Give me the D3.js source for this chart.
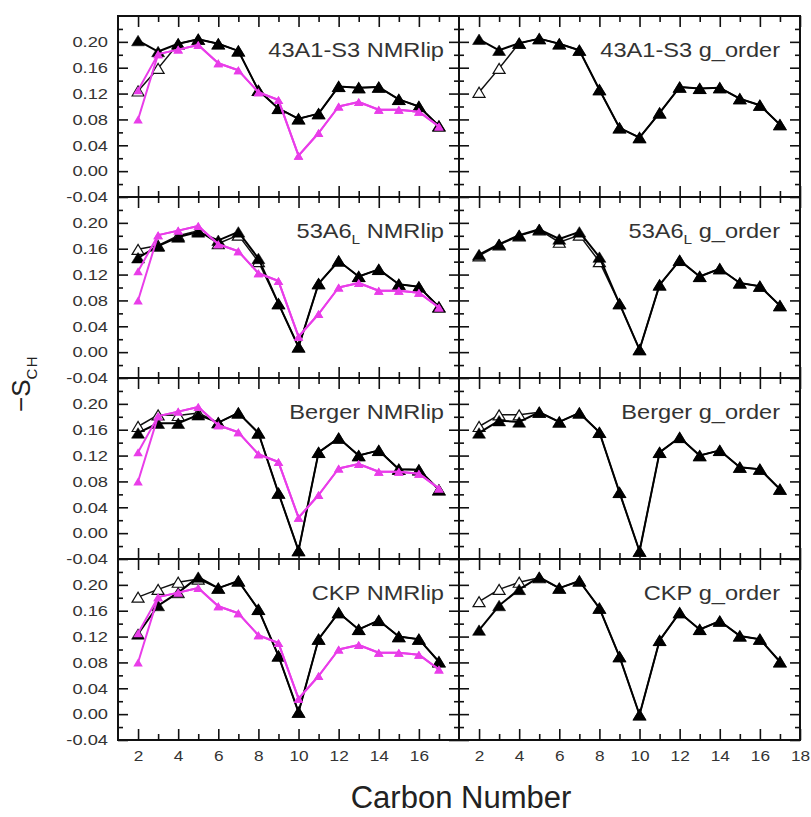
<!DOCTYPE html>
<html>
<head>
<meta charset="utf-8">
<script src="https://cdn.jsdelivr.net/npm/d3@7"></script>
<style>
  html, body { margin: 0; padding: 0; background: #fff; }
  svg { display: block; font-family: "Liberation Sans", Arial, Helvetica, sans-serif; }
</style>
</head>
<body>
<svg id="chart" width="811" height="817"></svg>
<script>
// Carbon positions along the acyl chain
const carbons = [2, 3, 4, 5, 6, 7, 8, 9, 10, 11, 12, 13, 14, 15, 16, 17];

// Experimental order parameters (two values at C2)
const expLower = [0.080, 0.181, 0.188, 0.195, 0.167, 0.156, 0.122, 0.110, 0.024, 0.059, 0.100, 0.107, 0.095, 0.095, 0.092, 0.069];
const expUpper = [0.125, 0.181, 0.188, 0.195, 0.167, 0.156, 0.122, 0.110, 0.024, 0.059, 0.100, 0.107, 0.095, 0.095, 0.092, 0.069];

// 43A1-S3
const s43NmrFilled  = [0.202, 0.185, 0.197, 0.204, 0.197, 0.186, 0.125, 0.097, 0.081, 0.089, 0.131, 0.129, 0.130, 0.111, 0.100, 0.070];
const s43NmrOpen    = [0.124, 0.159, 0.197, 0.204, 0.197, 0.186, 0.125, 0.097, 0.081, 0.089, 0.131, 0.129, 0.130, 0.111, 0.100, 0.070];
const s43GordFilled = [0.204, 0.187, 0.198, 0.205, 0.197, 0.187, 0.126, 0.067, 0.052, 0.090, 0.130, 0.128, 0.129, 0.112, 0.102, 0.072];
const s43GordOpen   = [0.122, 0.159, 0.198, 0.205, 0.197, 0.187, 0.126, 0.067, 0.052, 0.090, 0.130, 0.128, 0.129, 0.112, 0.102, 0.072];

// 53A6L
const s53NmrFilled  = [0.146, 0.164, 0.178, 0.186, 0.173, 0.186, 0.145, 0.075, 0.008, 0.106, 0.141, 0.117, 0.128, 0.105, 0.101, 0.070];
const s53NmrOpen    = [0.159, 0.165, 0.180, 0.188, 0.168, 0.181, 0.140, 0.075, 0.008, 0.106, 0.141, 0.117, 0.128, 0.105, 0.101, 0.070];
const s53GordFilled = [0.151, 0.167, 0.181, 0.190, 0.175, 0.186, 0.147, 0.075, 0.004, 0.104, 0.142, 0.117, 0.129, 0.107, 0.102, 0.072];
const s53GordOpen   = [0.149, 0.166, 0.180, 0.189, 0.170, 0.181, 0.140, 0.075, 0.004, 0.104, 0.142, 0.117, 0.129, 0.107, 0.102, 0.072];

// Berger
const bergNmrFilled  = [0.155, 0.170, 0.170, 0.183, 0.171, 0.186, 0.155, 0.062, -0.027, 0.125, 0.147, 0.120, 0.128, 0.099, 0.098, 0.067];
const bergNmrOpen    = [0.165, 0.183, 0.182, 0.186, 0.171, 0.186, 0.155, 0.062, -0.027, 0.125, 0.147, 0.120, 0.128, 0.099, 0.098, 0.067];
const bergGordFilled = [0.155, 0.174, 0.172, 0.187, 0.172, 0.186, 0.156, 0.063, -0.028, 0.125, 0.148, 0.120, 0.128, 0.102, 0.099, 0.068];
const bergGordOpen   = [0.165, 0.183, 0.183, 0.187, 0.172, 0.186, 0.156, 0.063, -0.028, 0.125, 0.148, 0.120, 0.128, 0.102, 0.099, 0.068];

// CKP
const ckpNmrFilled  = [0.124, 0.168, 0.188, 0.212, 0.195, 0.206, 0.162, 0.090, 0.003, 0.116, 0.157, 0.131, 0.145, 0.120, 0.116, 0.081];
const ckpNmrOpen    = [0.181, 0.193, 0.204, 0.209, 0.195, 0.206, 0.162, 0.090, 0.003, 0.116, 0.157, 0.131, 0.145, 0.120, 0.116, 0.081];
const ckpGordFilled = [0.130, 0.168, 0.193, 0.212, 0.195, 0.206, 0.164, 0.089, -0.001, 0.114, 0.157, 0.131, 0.144, 0.121, 0.116, 0.081];
const ckpGordOpen   = [0.174, 0.193, 0.204, 0.211, 0.195, 0.206, 0.164, 0.089, -0.001, 0.114, 0.157, 0.131, 0.144, 0.121, 0.116, 0.081];

// Panel titles: [prefix, subscript]
const rowNames   = [["43A1-S3", ""], ["53A6", "L"], ["Berger", ""], ["CKP", ""]];
const colMethods = ["NMRlip", "g_order"];

// Axis ticks and labels
const xMajorTicks   = [2, 4, 6, 8, 10, 12, 14, 16, 18];
const xMinorTicks   = [3, 5, 7, 9, 11, 13, 15, 17];
const yMajorTicks   = [-0.04, 0.00, 0.04, 0.08, 0.12, 0.16, 0.20];
const yTickLabels   = ["-0.04", "0.00", "0.04", "0.08", "0.12", "0.16", "0.20"];
const yMinorTicks   = [-0.02, 0.02, 0.06, 0.10, 0.14, 0.18, 0.22];

const rowSeries = [
  [[s43NmrFilled, s43NmrOpen], [s43GordFilled, s43GordOpen]],
  [[s53NmrFilled, s53NmrOpen], [s53GordFilled, s53GordOpen]],
  [[bergNmrFilled, bergNmrOpen], [bergGordFilled, bergGordOpen]],
  [[ckpNmrFilled, ckpNmrOpen], [ckpGordFilled, ckpGordOpen]]
];

// ---- layout ----
const svg = d3.select("#chart");
const gridLeft = 118, colW = 341, gridTop = 16, rowH = 181;
const magenta = "#e93de9";
const textColor = "#333";

function triPath(w, h) {
  const p = d3.path();
  p.moveTo(-w / 2, h / 2);
  p.lineTo(0, -h / 2);
  p.lineTo(w / 2, h / 2);
  p.closePath();
  return p.toString();
}

function drawSeries(g, x, y, values, opt) {
  const pts = carbons.map((c, i) => [c, values[i]]);
  const line = d3.line().x(d => x(d[0])).y(d => y(d[1]));
  g.append("path")
    .attr("d", line(pts))
    .attr("fill", "none")
    .attr("stroke", opt.lineColor)
    .attr("stroke-width", opt.lineWidth)
    .attr("stroke-linejoin", "round");
  g.selectAll(null)
    .data(pts)
    .enter().append("path")
    .attr("d", triPath(opt.w, opt.h))
    .attr("transform", d => `translate(${x(d[0])},${y(d[1])})`)
    .attr("fill", opt.fill)
    .attr("stroke", opt.stroke)
    .attr("stroke-width", opt.strokeWidth);
}

const labelScale = 1.18;

for (let r = 0; r < 4; r++) {
  for (let c = 0; c < 2; c++) {
    const x0 = gridLeft + c * colW;
    const y0 = gridTop + r * rowH;
    const x = d3.scaleLinear().domain([1, 18]).range([x0, x0 + colW]);
    const y = d3.scaleLinear().domain([-0.04, 0.24]).range([y0 + rowH, y0]);
    const g = svg.append("g");

    // ticks on all four sides, pointing inward
    const tickStyle = sel => {
      sel.select(".domain").remove();
      sel.selectAll(".tick line").attr("stroke", "#111").attr("stroke-width", 1.6);
    };
    const isBottomRow = r === 3;
    const xMaj = c === 0 ? xMajorTicks.filter(v => v < 18) : xMajorTicks;

    g.append("g").attr("transform", `translate(0,${y0 + rowH})`)
      .call(d3.axisBottom(x).tickValues(xMaj).tickSizeInner(-11).tickSizeOuter(0).tickPadding(10)
        .tickFormat(d => isBottomRow ? String(d) : ""))
      .call(tickStyle)
      .call(sel => sel.selectAll("text")
        .attr("fill", textColor).attr("font-size", 15)
        .attr("font-family", "Liberation Sans, Arial, sans-serif")
        .attr("transform", "scale(1.15,1)"));
    g.append("g").attr("transform", `translate(0,${y0 + rowH})`)
      .call(d3.axisBottom(x).tickValues(xMinorTicks).tickSize(-6).tickFormat(""))
      .call(tickStyle);
    g.append("g").attr("transform", `translate(0,${y0})`)
      .call(d3.axisTop(x).tickValues(xMaj).tickSize(-11).tickFormat(""))
      .call(tickStyle);
    g.append("g").attr("transform", `translate(0,${y0})`)
      .call(d3.axisTop(x).tickValues(xMinorTicks).tickSize(-6).tickFormat(""))
      .call(tickStyle);

    const ys = 1.22;
    g.append("g").attr("transform", `translate(${x0},0)`)
      .call(d3.axisLeft(y).tickValues(yMajorTicks).tickSizeInner(-10).tickSizeOuter(0).tickPadding(10 / ys)
        .tickFormat((d, i) => c === 0 ? yTickLabels[i] : ""))
      .call(tickStyle)
      .call(sel => sel.selectAll("text")
        .attr("fill", textColor).attr("font-size", 15)
        .attr("font-family", "Liberation Sans, Arial, sans-serif")
        .attr("transform", `scale(${ys},1)`));
    g.append("g").attr("transform", `translate(${x0},0)`)
      .call(d3.axisLeft(y).tickValues(yMinorTicks).tickSize(-5).tickFormat(""))
      .call(tickStyle);
    g.append("g").attr("transform", `translate(${x0 + colW},0)`)
      .call(d3.axisRight(y).tickValues(yMajorTicks).tickSize(-10).tickFormat(""))
      .call(tickStyle);
    g.append("g").attr("transform", `translate(${x0 + colW},0)`)
      .call(d3.axisRight(y).tickValues(yMinorTicks).tickSize(-5).tickFormat(""))
      .call(tickStyle);

    // data
    const [filled, open] = rowSeries[r][c];
    drawSeries(g, x, y, open, { lineColor: "#111", lineWidth: 1.5, w: 12, h: 10, fill: "#fff", stroke: "#111", strokeWidth: 1.2 });
    drawSeries(g, x, y, filled, { lineColor: "#000", lineWidth: 2, w: 13, h: 10.5, fill: "#000", stroke: "#000", strokeWidth: 0.5 });
    if (c === 0) {
      drawSeries(g, x, y, expUpper, { lineColor: magenta, lineWidth: 2, w: 9.5, h: 8, fill: magenta, stroke: "none", strokeWidth: 0 });
      drawSeries(g, x, y, expLower, { lineColor: magenta, lineWidth: 2, w: 9.5, h: 8, fill: magenta, stroke: "none", strokeWidth: 0 });
    }

    // panel title
    const [pre, sub] = rowNames[r];
    const endX = c === 0 ? x0 + colW - 15 : x0 + colW - 20;
    const t = g.append("text")
      .attr("transform", `translate(${endX},${y0 + 41}) scale(${labelScale},1)`)
      .attr("text-anchor", "end")
      .attr("font-size", 20)
      .attr("fill", textColor);
    t.append("tspan").text(pre);
    if (sub) {
      t.append("tspan").attr("font-size", 13).attr("dy", 6).text(sub);
      t.append("tspan").attr("dy", -6).text(" " + colMethods[c]);
    } else {
      t.append("tspan").text(" " + colMethods[c]);
    }

    // frame
    g.append("rect")
      .attr("x", x0).attr("y", y0)
      .attr("width", colW).attr("height", rowH)
      .attr("fill", "none")
      .attr("stroke", "#111")
      .attr("stroke-width", 2);
  }
}

// axis titles
svg.append("text")
  .attr("x", 461).attr("y", 808)
  .attr("text-anchor", "middle")
  .attr("font-size", 31)
  .attr("fill", "#222")
  .text("Carbon Number");

const yl = svg.append("text")
  .attr("transform", "translate(30,412) rotate(-90)")
  .attr("fill", "#222");
yl.append("tspan").attr("font-size", 26).text("\u2212S");
yl.append("tspan").attr("font-size", 15).attr("dy", 7).attr("letter-spacing", 1.5).text("CH");
</script>
</body>
</html>
